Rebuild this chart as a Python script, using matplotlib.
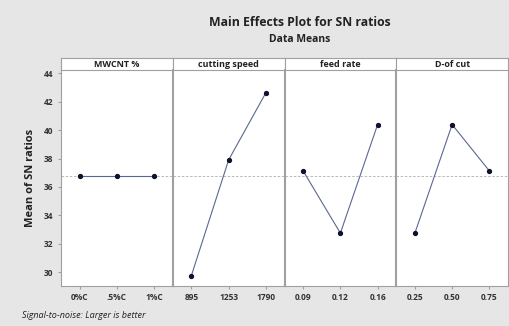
import numpy as np
import matplotlib.pyplot as plt

# factors and level labels
factors = ['MWCNT %', 'cutting speed', 'feed rate', 'D-of cut']
levels = [['0%C', '.5%C', '1%C'],
          ['895', '1253', '1790'],
          ['0.09', '0.12', '0.16'],
          ['0.25', '0.50', '0.75']]

# mean SN ratio per level
sn_mwcnt = [36.77, 36.77, 36.77]
sn_speed = [29.76, 37.90, 42.63]
sn_feed = [37.13, 32.75, 40.39]
sn_doc = [32.75, 40.39, 37.13]
sn_means = [sn_mwcnt, sn_speed, sn_feed, sn_doc]

grand_mean = np.mean(sn_speed + sn_feed + sn_doc)

W, H = 509, 326
fig = plt.figure(figsize=(W / 100, H / 100), dpi=100, facecolor='#e6e6e6')
plt.rcParams['font.family'] = ['Open Sans', 'DejaVu Sans']

left, right = 61 / W, 508 / W
bottom, top = 1 - 286 / H, 1 - 70 / H
strip_top = 1 - 58 / H
pw = (right - left) / 4

edge = '#a0a0a0'
for i, name in enumerate(factors):
    ax = fig.add_axes([left + i * pw, bottom, pw, top - bottom])
    x = np.arange(1, 4)
    ax.axhline(grand_mean, color='#b0b0b0', lw=0.6, ls=(0, (3, 2)), zorder=1)
    ax.plot(x, sn_means[i], color='#5a6890', lw=0.8, zorder=2)
    ax.plot(x, sn_means[i], 'o', color='#101030', ms=2.8, zorder=3)
    ax.set_xlim(0.5, 3.5)
    ax.set_ylim(29.03, 44.23)
    ax.set_xticks(x)
    ax.set_xticklabels(levels[i], fontsize=6, fontweight='bold', color='#333333')
    ax.tick_params(axis='x', length=2, color=edge, pad=3)
    ax.set_yticks(np.arange(30, 45, 2))
    if i == 0:
        ax.tick_params(axis='y', length=2, color=edge, labelsize=6, labelcolor='#333333')
        for t in ax.get_yticklabels():
            t.set_fontweight('bold')
        ax.set_ylabel('Mean of SN ratios', fontsize=8, fontweight='bold', color='#222222', labelpad=6)
    else:
        ax.tick_params(axis='y', left=False, labelleft=False)
    for s in ax.spines.values():
        s.set_color(edge)
        s.set_linewidth(0.8)
    ax.spines['left'].set_linewidth(1.5 if i > 0 else 0.8)
    ax.spines['top'].set_visible(False)

    sax = fig.add_axes([left + i * pw, top, pw, strip_top - top])
    sax.set_xticks([])
    sax.set_yticks([])
    for s in sax.spines.values():
        s.set_color(edge)
        s.set_linewidth(0.8)
    sax.text(0.5, 0.45, name, ha='center', va='center', fontsize=6.5,
             fontweight='bold', color='#222222', transform=sax.transAxes)

fig.text(300 / W, 1 - 22 / H, 'Main Effects Plot for SN ratios', ha='center',
         va='center', fontsize=8.8, fontweight='bold', color='#222222')
fig.text(300 / W, 1 - 40 / H, 'Data Means', ha='center', va='center',
         fontsize=7.5, fontweight='bold', color='#222222')
fig.text(22 / W, 1 - 316 / H, 'Signal-to-noise: Larger is better', ha='left',
         va='center', fontsize=6.5, style='italic', color='#222222')

fig.savefig('out.png', dpi=100, facecolor=fig.get_facecolor())
